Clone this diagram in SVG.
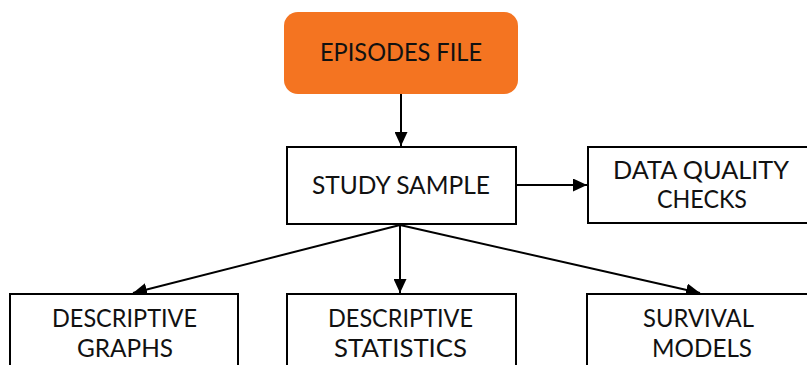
<svg xmlns="http://www.w3.org/2000/svg" width="807" height="365" viewBox="0 0 807 365">
<defs>
<marker id="ah" markerUnits="userSpaceOnUse" markerWidth="15" markerHeight="13" refX="14" refY="6.5" orient="auto">
<path d="M0,0 L14,6.5 L0,13 Z" fill="#000"/>
</marker>
<style>
.box{fill:#fff;stroke:#000;stroke-width:2}
.lbl{font-family:Lato,"Liberation Sans",sans-serif;font-size:25px;fill:#111;text-anchor:middle}
.con{stroke:#000;stroke-width:2;fill:none;marker-end:url(#ah)}
</style>
</defs>
<rect width="807" height="365" fill="#fff"/>
<g id="connectors">
<line class="con" x1="401" y1="94" x2="401" y2="146"/>
<line class="con" x1="516" y1="185" x2="587" y2="185"/>
<line class="con" x1="400" y1="225" x2="133" y2="293"/>
<line class="con" x1="400" y1="225" x2="400" y2="293"/>
<line class="con" x1="400" y1="225" x2="700" y2="293"/>
</g>
<g id="episodes-file">
<rect x="284" y="12" width="234" height="82" rx="14" fill="#F47421"/>
<text class="lbl" x="401" y="61" textLength="162" lengthAdjust="spacingAndGlyphs">EPISODES FILE</text>
</g>
<g id="study-sample">
<rect class="box" x="287" y="147" width="229" height="77"/>
<text class="lbl" x="401" y="194" textLength="178" lengthAdjust="spacingAndGlyphs">STUDY SAMPLE</text>
</g>
<g id="data-quality-checks">
<rect class="box" x="588" y="147" width="240" height="76"/>
<text class="lbl" x="701" y="179" textLength="176" lengthAdjust="spacingAndGlyphs">DATA QUALITY</text>
<text class="lbl" x="702" y="208" textLength="90" lengthAdjust="spacingAndGlyphs">CHECKS</text>
</g>
<g id="descriptive-graphs">
<rect class="box" x="10" y="294" width="228" height="90"/>
<text class="lbl" x="124.5" y="327" textLength="145" lengthAdjust="spacingAndGlyphs">DESCRIPTIVE</text>
<text class="lbl" x="125" y="357" textLength="96" lengthAdjust="spacingAndGlyphs">GRAPHS</text>
</g>
<g id="descriptive-statistics">
<rect class="box" x="287" y="294" width="229" height="90"/>
<text class="lbl" x="400.5" y="327" textLength="145" lengthAdjust="spacingAndGlyphs">DESCRIPTIVE</text>
<text class="lbl" x="400.5" y="357" textLength="133" lengthAdjust="spacingAndGlyphs">STATISTICS</text>
</g>
<g id="survival-models">
<rect class="box" x="587" y="294" width="240" height="90"/>
<text class="lbl" x="698.5" y="327" textLength="111" lengthAdjust="spacingAndGlyphs">SURVIVAL</text>
<text class="lbl" x="702" y="357" textLength="100" lengthAdjust="spacingAndGlyphs">MODELS</text>
</g>
</svg>
